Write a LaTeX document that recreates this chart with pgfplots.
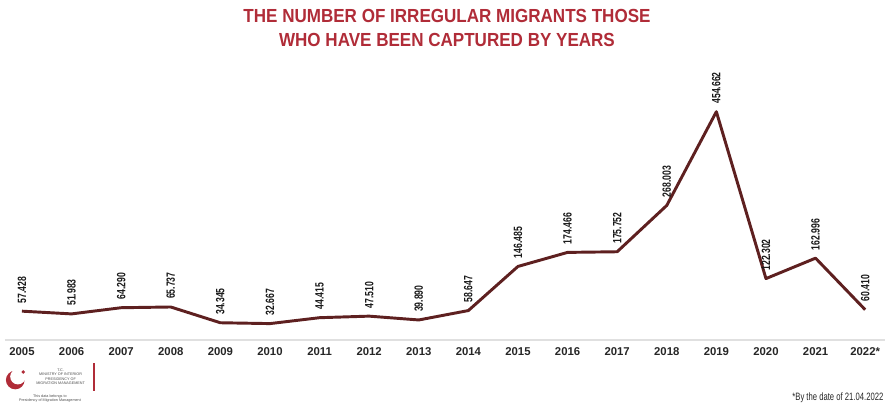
\documentclass[border=0pt]{standalone}
\usepackage{pgfplots}
\pgfplotsset{compat=1.18}
\usepackage{fontspec}
\setmainfont{Liberation Sans}
\newfontfamily\titlefont[FakeStretch=0.9]{Liberation Sans}
\newfontfamily\condfont[FakeStretch=0.72]{Liberation Sans}
\definecolor{titlered}{RGB}{176,44,56}
\definecolor{linebrown}{RGB}{94,32,32}
\begin{document}
\begin{tikzpicture}
\useasboundingbox (-3.45pt,-55.5pt) rectangle (666.3pt,255pt);
\begin{axis}[
  scale only axis, width=660.3pt, height=188.3pt,
  xmin=-0.35, xmax=17.4, ymin=0, ymax=500000,
  axis x line=bottom, axis y line=none,
  x axis line style={-, draw=black!12, line width=1.2pt},
  xtick={0,...,17},
  xticklabels={2005,2006,2007,2008,2009,2010,2011,2012,2013,2014,2015,2016,2017,2018,2019,2020,2021,2022*},
  major tick length=0,
  xticklabel style={font=\bfseries\fontsize{8.5}{10}\selectfont, text=black!85, yshift=-2pt},
  clip=false,
  /pgf/number format/.cd, fixed, precision=0, 1000 sep={.}, assume math mode=true,
]
\addplot[linebrown, line width=2.2pt, line join=round, mark=none,
  nodes near coords,
  nodes near coords style={rotate=90, anchor=west, inner xsep=5pt, text=black!90,
    font=\condfont\bfseries\fontsize{9}{10}\selectfont}]
coordinates {
(0,57428) (1,51983) (2,64290) (3,65737) (4,34345) (5,32667) (6,44415)
(7,47510) (8,39890) (9,58647) (10,146485) (11,174466) (12,175752)
(13,268003) (14,454662) (15,122302) (16,162996) (17,60410)
};
\end{axis}
% title
\node[font=\titlefont\bfseries\fontsize{14.2}{16.5}\selectfont, text=titlered, align=center]
  at (331.8pt,234pt) {THE NUMBER OF IRREGULAR MIGRANTS THOSE\\[1pt]WHO HAVE BEEN CAPTURED BY YEARS};
% footnote
\node[anchor=east, font=\condfont\fontsize{8}{9}\selectfont, text=black!85]
  at (662.6pt,-43.5pt) {*By the date of 21.04.2022};
% logo
\fill[titlered] (8pt,-30pt) circle (7pt);
\fill[white] (10pt,-27.5pt) circle (5.8pt);
\fill[titlered] (14pt,-24pt) circle (1.4pt);
\node[font=\fontsize{2.8}{3.4}\selectfont, text=black!70, align=center]
  at (42pt,-27.5pt) {T.C.\\MINISTRY OF INTERIOR\\PRESIDENCY OF\\MIGRATION MANAGEMENT};
\fill[titlered] (66.5pt,-17.5pt) rectangle (67.6pt,-38.5pt);
\node[font=\fontsize{2.8}{3.4}\selectfont, text=black!70, align=center]
  at (34pt,-44pt) {This data belongs to\\Presidency of Migration Management};
\end{tikzpicture}
\end{document}
